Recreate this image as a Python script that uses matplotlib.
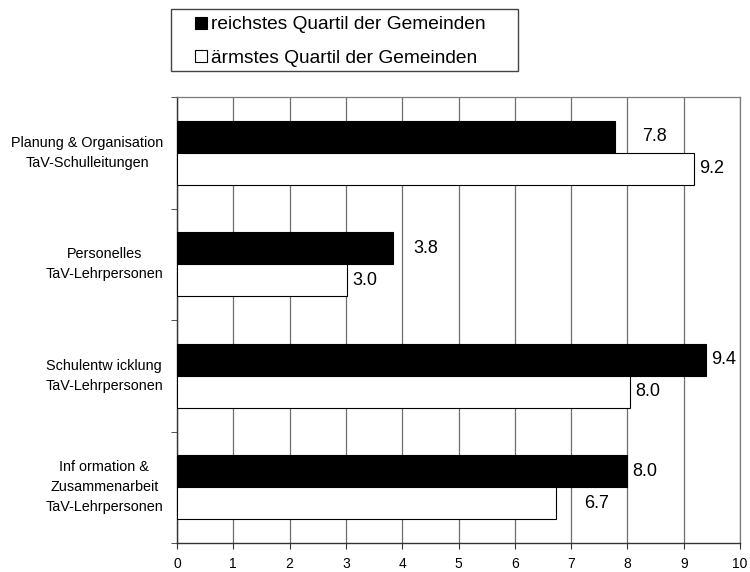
import matplotlib
matplotlib.use("Agg")
import matplotlib.pyplot as plt
from matplotlib.lines import Line2D
from matplotlib.patches import Rectangle
from matplotlib.transforms import offset_copy
import numpy as np

plt.rcParams['font.family'] = ['Liberation Sans', 'DejaVu Sans']

categories = ["Planung & Organisation\nTaV-Schulleitungen",
              "Personelles\nTaV-Lehrpersonen",
              "Schulentw icklung\nTaV-Lehrpersonen",
              "Inf ormation &\nZusammenarbeit\nTaV-Lehrpersonen"]
reich = [7.78, 3.84, 9.40, 7.99]
arm = [9.18, 3.02, 8.04, 6.74]
series_names = ["reichstes Quartil der Gemeinden", "ärmstes Quartil der Gemeinden"]
xticks = list(range(0, 11))

# label x-offsets in pixels (style)
off_reich = [27, 20, 5, 5]
off_arm = [5, 5, 6, 28]

fig = plt.figure(figsize=(7.5, 5.72), dpi=100)
W, H = 750, 572
ax = fig.add_axes([177 / W, 1 - 543 / H, (740 - 177) / W, (543 - 97) / H])

y = np.arange(len(categories))
h = 0.285
ax.barh(y - h / 2, reich, height=h, color='black', edgecolor='black', linewidth=0.8, zorder=3)
ax.barh(y + h / 2, arm, height=h, color='white', edgecolor='black', linewidth=0.8, zorder=3)

ax.set_xlim(0, 10)
ax.set_ylim(3.5, -0.5)
ax.set_xticks(xticks)
ax.set_xticklabels([str(t) for t in xticks], fontsize=10)
ax.xaxis.grid(True, color='#6e6e6e', linewidth=0.9, zorder=0)
ax.set_axisbelow(True)

ax.set_yticks(y)
ax.set_yticklabels(categories, fontsize=10.4, multialignment='center', linespacing=1.55,
                   va='center')
ax.tick_params(axis='y', which='major', length=0, pad=10)
ax.set_yticks(np.arange(-0.5, 4.0, 1.0), minor=True)
ax.tick_params(axis='y', which='minor', length=4, direction='out', color='#333333')
ax.tick_params(axis='x', length=4, direction='out', color='#333333', pad=6)

for s in ['left', 'bottom']:
    ax.spines[s].set_color('#333333')
    ax.spines[s].set_linewidth(1.0)
for s in ['top', 'right']:
    ax.spines[s].set_color('#7a7a7a')
    ax.spines[s].set_linewidth(0.9)

for i in range(len(categories)):
    t1 = offset_copy(ax.transData, fig=fig, x=off_reich[i] * 72 / 100, y=0, units='points')
    ax.text(reich[i], y[i] - h / 2, f"{reich[i]:.1f}", transform=t1, va='center', ha='left',
            fontsize=13, zorder=5)
    t2 = offset_copy(ax.transData, fig=fig, x=off_arm[i] * 72 / 100, y=0, units='points')
    ax.text(arm[i], y[i] + h / 2, f"{arm[i]:.1f}", transform=t2, va='center', ha='left',
            fontsize=13, zorder=5)

# legend box
fig.patches.append(Rectangle((171 / W, 1 - 71 / H), (518 - 171) / W, (71 - 9) / H,
                             transform=fig.transFigure, facecolor='white',
                             edgecolor='#444444', linewidth=1.0, zorder=1))
handles = [Line2D([], [], marker='s', linestyle='none', markersize=8,
                  markerfacecolor='black', markeredgecolor='black', markeredgewidth=0.8),
           Line2D([], [], marker='s', linestyle='none', markersize=8,
                  markerfacecolor='white', markeredgecolor='black', markeredgewidth=0.8)]
leg = fig.legend(handles, series_names, loc='upper left',
                 bbox_to_anchor=(196 / W, 1 - 16 / H),
                 fontsize=13.8, frameon=False,
                 handlelength=0.55, handletextpad=0.25, borderaxespad=0, borderpad=0,
                 labelspacing=0.82)

fig.savefig("out.png", dpi=100)
